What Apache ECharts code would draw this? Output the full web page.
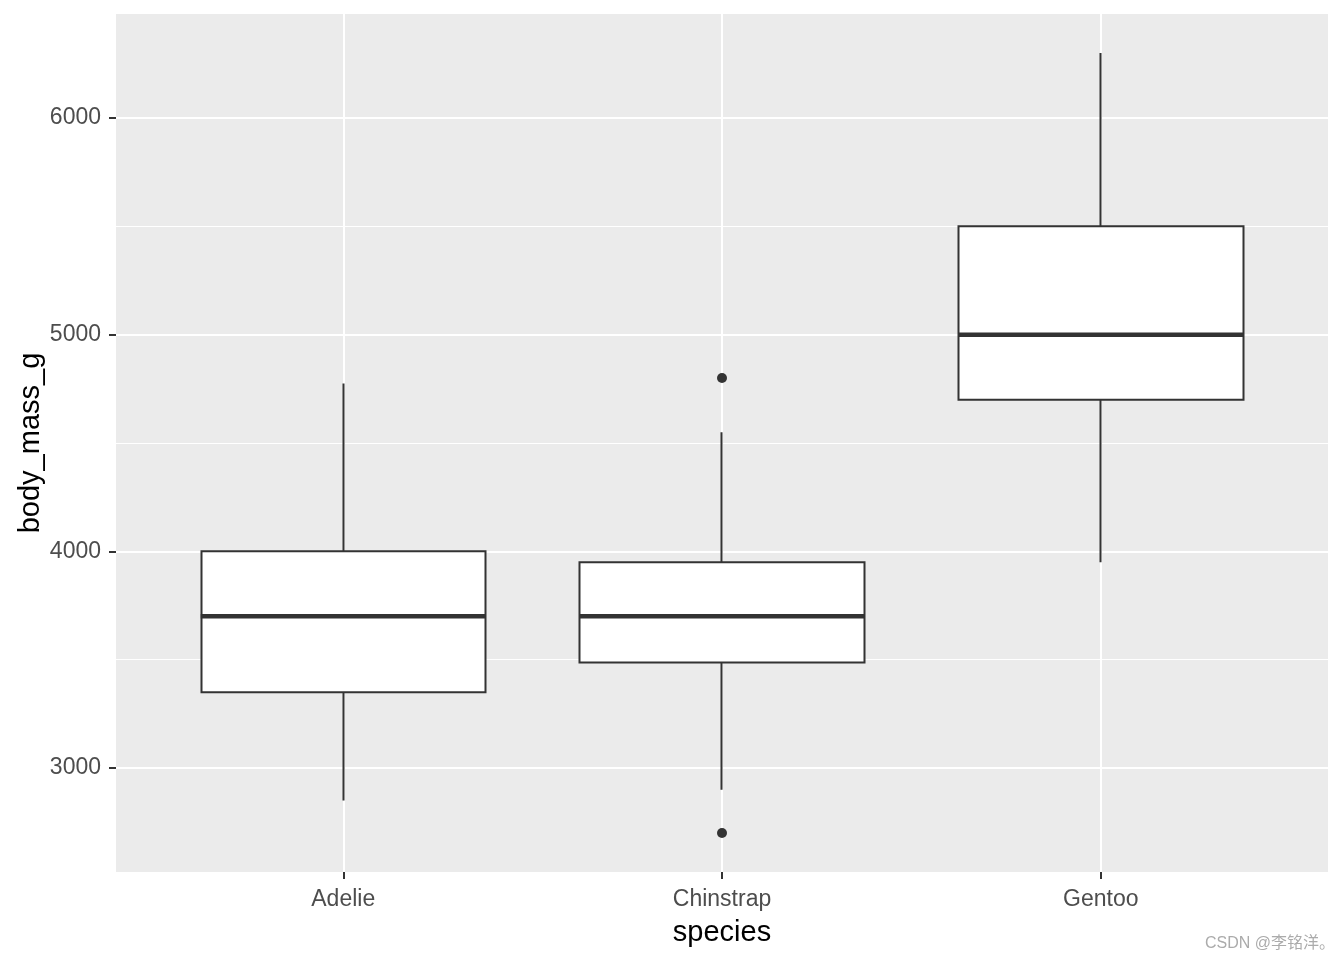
<!DOCTYPE html>
<html>
<head>
<meta charset="utf-8">
<script src="https://cdn.jsdelivr.net/npm/echarts@6/dist/echarts.min.js"></script>
<style>
html,body{margin:0;padding:0;background:#fff;}
#chart{width:1344px;height:960px;}
</style>
</head>
<body>
<div id="chart"></div>
<script>
// ---- data ----
var categories = ['Adelie', 'Chinstrap', 'Gentoo'];
var whiskerLow  = [2850, 2900, 3950];
var q1          = [3350, 3487.5, 4700];
var median      = [3700, 3700, 5000];
var q3          = [4000, 3950, 5500];
var whiskerHigh = [4775, 4550, 6300];
var outlierSpecies = ['Chinstrap', 'Chinstrap'];
var outlierValues  = [4800, 2700];
var yTicks      = [3000, 4000, 5000, 6000];
var yMinorTicks = [3500, 4500, 5500];

// ---- build ----
var xPos = categories.map(function (c, i) { return i + 1; });
var boxData = categories.map(function (c, i) {
  return [xPos[i], q1[i], q3[i], whiskerLow[i], whiskerHigh[i]];
});
var medianData = categories.map(function (c, i) { return [xPos[i], median[i]]; });
var outlierData = outlierSpecies.map(function (s, i) {
  return [categories.indexOf(s) + 1, outlierValues[i]];
});
var gridLines = [];
yTicks.forEach(function (v) { gridLines.push({ yAxis: v, lineStyle: { width: 2 } }); });
yMinorTicks.forEach(function (v) { gridLines.push({ yAxis: v, lineStyle: { width: 1.2 } }); });
xPos.forEach(function (v) { gridLines.push({ xAxis: v, lineStyle: { width: 2 } }); });

var font = 'Liberation Sans, Arial, sans-serif';
var chart = echarts.init(document.getElementById('chart'), null, { renderer: 'canvas' });
chart.setOption({
  animation: false,
  backgroundColor: '#ffffff',
  grid: {
    left: 116, right: 16, top: 14, bottom: 88,
    containLabel: false, outerBoundsMode: 'none',
    show: true, backgroundColor: '#EBEBEB', borderWidth: 0
  },
  xAxis: {
    type: 'value', min: 0.4, max: 3.6,
    name: 'species', nameLocation: 'middle', nameGap: 46, nameMoveOverlap: false,
    nameTextStyle: { fontSize: 29, color: '#000', fontFamily: font },
    axisLine: { show: false },
    axisTick: { show: true, length: 7, customValues: xPos, lineStyle: { color: '#333333', width: 2 } },
    axisLabel: {
      customValues: xPos, margin: 16, fontSize: 23, color: '#4D4D4D', fontFamily: font,
      formatter: function (v) { return categories[Math.round(v) - 1] || ''; }
    },
    splitLine: { show: false }
  },
  yAxis: {
    type: 'value', min: 2520, max: 6480,
    name: 'body_mass_g', nameLocation: 'middle', nameGap: 71, nameRotate: 90, nameMoveOverlap: false,
    nameTextStyle: { fontSize: 29, color: '#000', fontFamily: font },
    axisLine: { show: false },
    axisTick: { show: true, length: 7, customValues: yTicks, lineStyle: { color: '#333333', width: 2 } },
    axisLabel: {
      customValues: yTicks, margin: 15, fontSize: 23, color: '#4D4D4D', fontFamily: font,
      formatter: function (v) { return String(v); }
    },
    splitLine: { show: false }
  },
  series: [
    {
      type: 'candlestick',
      data: boxData,
      barWidth: 285,
      itemStyle: {
        color: '#ffffff', color0: '#ffffff',
        borderColor: '#333333', borderColor0: '#333333',
        borderWidth: 2, opacity: 1
      },
      z: 3,
      markLine: {
        silent: true, symbol: 'none', z: 1,
        label: { show: false },
        lineStyle: { color: '#ffffff', type: 'solid', opacity: 1 },
        emphasis: { disabled: true },
        data: gridLines
      }
    },
    {
      type: 'scatter',
      data: medianData,
      symbol: 'rect',
      symbolSize: [285, 4.5],
      itemStyle: { color: '#333333', opacity: 1 },
      z: 5
    },
    {
      type: 'scatter',
      data: outlierData,
      symbol: 'circle',
      symbolSize: 10,
      itemStyle: { color: '#333333', opacity: 1 },
      z: 6
    }
  ],
  graphic: [
    {
      type: 'text', right: 9, bottom: 8,
      style: { text: 'CSDN @李铭洋。', fontSize: 16, fill: '#ababab', fontFamily: 'Liberation Sans, Noto Sans CJK SC, sans-serif' }
    }
  ]
});
</script>
</body>
</html>
